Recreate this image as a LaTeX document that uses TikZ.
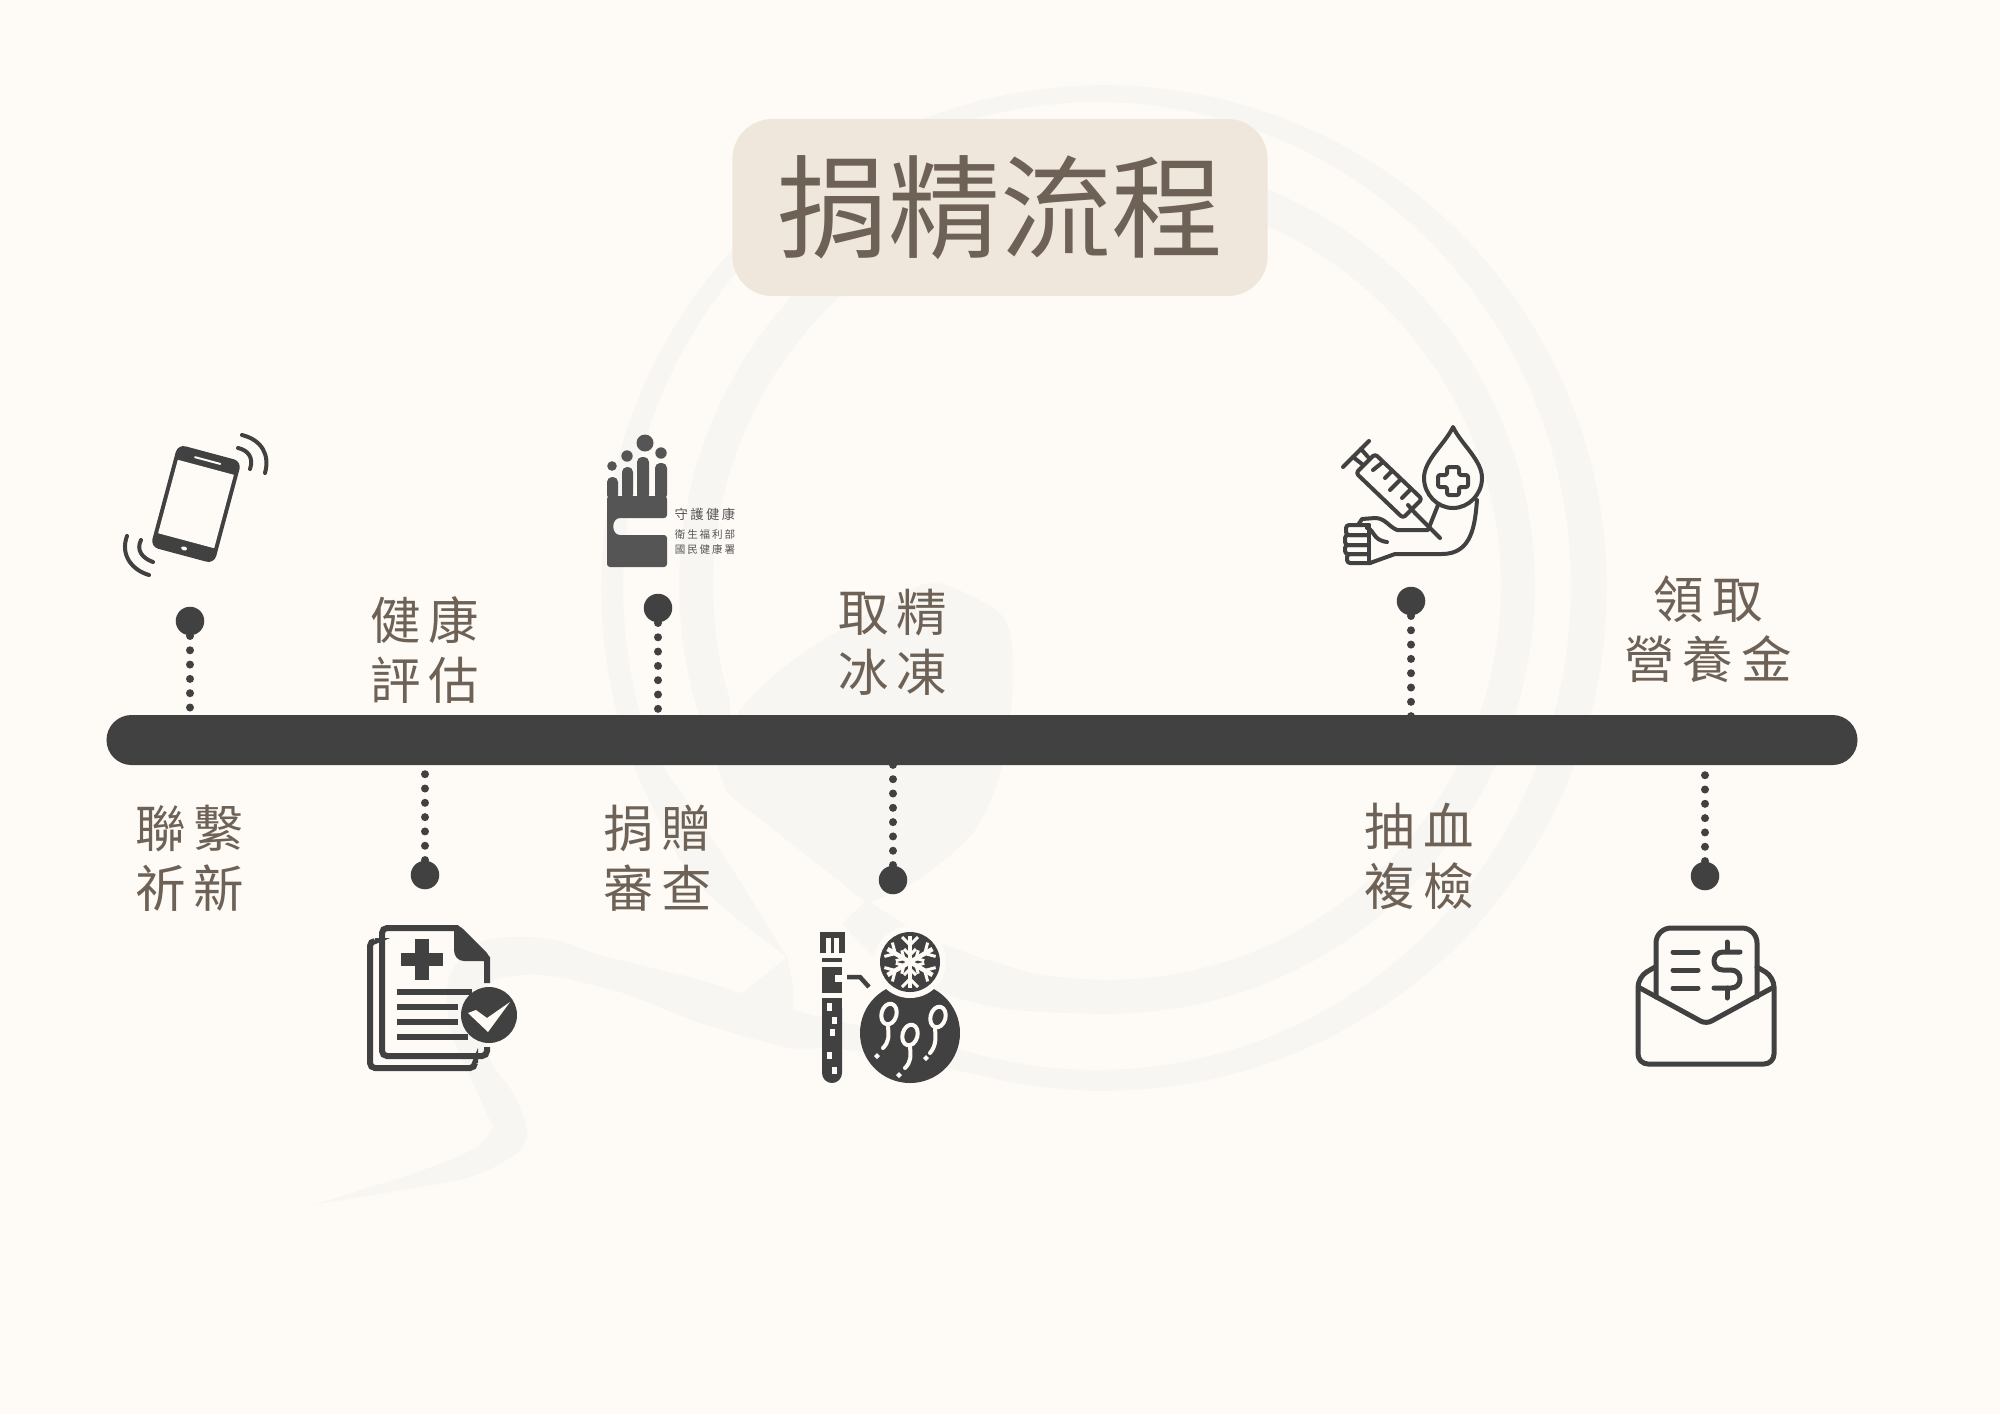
\documentclass[tikz,border=0pt]{standalone}
\usepackage{fontspec}
\usepackage{tikz}
\usetikzlibrary{calc}
\newfontfamily\labelfont[LetterSpace=16]{Noto Sans CJK TC}
\newfontfamily\titlefont{Noto Sans CJK TC}
\newfontfamily\logofont[LetterSpace=18]{Noto Sans CJK TC}
\definecolor{paper}{HTML}{FEFBF7}
\definecolor{swirl}{HTML}{F8F6F3}
\definecolor{boxtan}{HTML}{F0E7DC}
\definecolor{inktan}{HTML}{6E6257}
\definecolor{icondark}{HTML}{414141}
\definecolor{logogray}{HTML}{555555}

\begin{document}
\begin{tikzpicture}[x=0.01cm,y=-0.01cm,
	stepdot/.style={circle,fill=icondark,inner sep=0pt,minimum size=0.285cm},
	dotline/.style={icondark,line width=0.08cm,line cap=round,dash pattern=on 0pt off 0.143cm},
	steplabel/.style={text=inktan,align=center,inner sep=0pt,font=\labelfont\fontsize{14.35}{17.1}\selectfont},
	iconline/.style={icondark,line width=0.04cm,line cap=round,line join=round},
	iconlight/.style={paper,line width=0.04cm,line cap=round,line join=round},
	]
	\useasboundingbox (0,0) rectangle (2000,1414);
	\fill[paper] (0,0) rectangle (2000,1414);

	\begin{scope}[swirl]
		\fill plot[smooth] coordinates {(822,1047) (890,1056) (974,1074)}
			-- plot[domain=105:-200,samples=90] ({1104+503*cos(\x)},{588+503*sin(\x)})
			-- plot[smooth] coordinates {(631,760) (690,875) (787,957)}
			-- plot[smooth] coordinates {(787,957) (720,850) (652,751)}
			-- plot[domain=-200:107,samples=90] ({1097+474*cos(\x)},{586+484*sin(\x)})
			-- plot[smooth] coordinates {(958,1049) (880,1030) (793,1010) (700,980) (600,955) (557,940) (510,937) (473,945) (450,975) (447,1000) (452,1035) (467,1070) (493,1127)}
			-- plot[smooth] coordinates {(493,1127) (477,1147) (423,1170) (313,1205)}
			-- plot[smooth] coordinates {(313,1205) (390,1192) (470,1177) (517,1153) (527,1130) (513,1093) (490,1060) (485,1020) (490,983) (523,975) (557,977) (623,993) (700,1023) (790,1048) (822,1047)}
			-- cycle;
		\fill (787,957) -- (793,985) -- (793,1012) -- (740,995) -- cycle;
		\fill plot[smooth] coordinates {(842,923) (900,977) (1000,1008) (1107,1014)}
			-- plot[domain=90:-200,samples=90] ({1107+428*cos(\x)},{586+428*sin(\x)})
			-- plot[smooth] coordinates {(705,732) (717,765) (727,793)}
			-- plot[domain=-197:90,samples=90] ({1107+394*cos(\x)},{586+394*sin(\x)})
			-- plot[smooth] coordinates {(1107,980) (1033,973) (933,940) (867,900)}
			-- cycle;
		\fill plot[smooth] coordinates {(867,903) (913,883) (973,833) (1002,767) (1013,680) (1003,617) (937,583) (893,600) (800,655) (740,710) (727,760) (727,793)} -- cycle;
	\end{scope}

	\node[fill=boxtan,text=inktan,rounded corners=0.4cm,minimum width=5.35cm,minimum height=1.77cm,inner sep=0pt,font=\titlefont\fontsize{31.8}{36}\selectfont] (titlebox) at (1000,207.5) {捐精流程};

	\node[fill=icondark,rounded corners=0.25cm,minimum width=17.5cm,minimum height=0.5cm,inner sep=0pt] (bar) at (982,740) {};

	\begin{scope}[every node/.style={stepdot}]
		\node (dotphone) at (190,621) {};
		\node (dotcheck) at (425,875) {};
		\node (dotreview) at (658,608) {};
		\node (dotfreeze) at (893,880) {};
		\node (dotblood) at (1411,601) {};
		\node (dotmoney) at (1705,876) {};
	\end{scope}

	\draw[dotline] (dotphone) -- ($(dotphone |- bar.north)+(0,8)$);
	\draw[dotline] (dotcheck) -- ($(dotcheck |- bar.south)+(0,-8)$);
	\draw[dotline] (dotreview) -- ($(dotreview |- bar.north)+(0,8)$);
	\draw[dotline] (dotfreeze) -- ($(dotfreeze |- bar.south)+(0,-8)$);
	\draw[dotline] (dotblood) -- ($(dotblood |- bar.north)+(0,8)$);
	\draw[dotline] (dotmoney) -- ($(dotmoney |- bar.south)+(0,-8)$);

	\begin{scope}[every node/.style={steplabel}]
		\node (textphone) at (190,858) {聯繫\\祈新};
		\node (textcheck) at (425,650) {健康\\評估};
		\node (textreview) at (658,858) {捐贈\\審查};
		\node (textfreeze) at (893,642) {取精\\冰凍};
		\node (textblood) at (1419,856) {抽血\\複檢};
		\node (textmoney) at (1708,629) {領取\\營養金};
	\end{scope}

	% phone
	\begin{scope}[shift={(196,504)},rotate=-15]
		\fill[icondark,rounded corners=0.08cm] (-33,-53) rectangle (33,53);
		\fill[paper] (-29,-38) rectangle (29,38);
		\draw[paper,line width=0.02cm,line cap=round] (-13,-45) -- (13,-45);
		\fill[paper] (0,46) ellipse [x radius=3,y radius=2];
	\end{scope}
	\draw[iconline] (242,435) .. controls (262,440) and (270,455) .. (265,473);
	\draw[iconline] (238,448) .. controls (248,450) and (254,458) .. (250,469);
	\draw[iconline] (127,536) .. controls (120,555) and (132,570) .. (149,575);
	\draw[iconline] (141,540) .. controls (136,550) and (142,558) .. (153,562);

	% logo
	\begin{scope}[logogray]
		\fill (645,443) circle [radius=8.5];
		\fill (661,453) circle [radius=5.7];
		\fill (627,456) circle [radius=5.7];
		\fill (612,466) circle [radius=4.8];
		\fill[rounded corners=0.05cm] (607,500) -- (607,477) -- (618,477) -- (618,500) -- cycle;
		\fill[rounded corners=0.05cm] (622,500) -- (622,467) -- (633,467) -- (633,500) -- cycle;
		\fill[rounded corners=0.05cm] (637,500) -- (637,457) -- (649,457) -- (649,500) -- cycle;
		\fill[rounded corners=0.05cm] (655,500) -- (655,463) -- (667,463) -- (667,500) -- cycle;
		\fill[rounded corners=0.03cm] (607,496) -- (667,496) -- (667,518) -- (623,518) .. controls (611,518) and (611,535) .. (623,535) -- (667,535) -- (667,567) -- (607,567) -- cycle;
	\end{scope}
	\node[text=logogray,inner sep=0pt,font=\logofont\fontsize{3.8}{5}\selectfont] (logotop) at (705,514) {守護健康};
	\node[text=logogray,inner sep=0pt,font=\logofont\fontsize{3}{5}\selectfont] (logomid) at (705,534) {衛生福利部};
	\node[text=logogray,inner sep=0pt,font=\logofont\fontsize{3}{5}\selectfont] (logolow) at (705,549) {國民健康署};

	% document
	\begin{scope}[icondark,line width=0.06cm]
		\draw[rounded corners=0.05cm] (375,941) -- (370,941) -- (370,1068) -- (475,1068) -- (475,1063);
		\draw[rounded corners=0.05cm] (487,983) -- (487,957) -- (458,928) -- (382,928) -- (382,1056) -- (487,1056) -- (487,1047);
		\fill (458,925) -- (490,957) -- (490,961) -- (464,961) .. controls (458,961) and (454,956) .. (454,950) -- (454,925) -- cycle;
		\fill (415,939) rectangle (429,980);
		\fill (401,953) rectangle (443,966);
		\fill (397,989) rectangle (472,995);
		\fill (397,1004) rectangle (458,1010);
		\fill (397,1019) rectangle (458,1025);
		\fill (397,1034) rectangle (468,1040);
		\fill (489,1015) circle [radius=28];
		\fill[paper] (468,1013) -- (476,1010) -- (487,1018) -- (510,1002) -- (488,1032) -- cycle;
	\end{scope}

	% tube and cells
	\begin{scope}[icondark]
		\fill (820,932) rectangle (845,953);
		\fill[paper] (826,938) rectangle (831,953);
		\fill[paper] (834,938) rectangle (839,953);
		\fill (822,958) rectangle (842,962);
		\fill (822,967) rectangle (842,975);
		\fill (822,975) rectangle (835,982);
		\fill (822,982) rectangle (842,993);
		\fill[rounded corners=0.1cm] (822,998) -- (842,998) -- (842,1083) -- (822,1083) -- cycle;
		\fill (822,998) rectangle (842,1010);
		\fill[paper] (827,1003) rectangle (832,1011);
		\fill[paper] (832,1017) rectangle (837,1024);
		\fill[paper] (830,1029) rectangle (835,1036);
		\fill[paper] (827,1052) rectangle (832,1059);
		\fill[paper] (832,1067) rectangle (837,1074);
		\draw[line width=0.045cm] (847,977) -- (860,977) -- (869,987);
		\fill (910,1033) circle [radius=50];
		\fill[paper] (910,962) circle [radius=36];
		\fill (910,962) circle [radius=30];
	\end{scope}
	\foreach \ang in {0,60,120,180,240,300}
	{
		\begin{scope}[shift={(910,962)},rotate=\ang]
			\draw[paper,line width=0.045cm] (0,0) -- (0,-26);
			\draw[paper,line width=0.03cm] (-8,-25) -- (0,-17) -- (8,-25);
			\draw[paper,line width=0.03cm] (-6,-13) -- (0,-7) -- (6,-13);
		\end{scope}
	}
	\draw[iconlight,rotate around={-15:(889,1014)}] (889,1014) ellipse [x radius=7.5,y radius=10.5];
	\draw[iconlight] (888,1027) .. controls (889,1036) and (889,1042) .. (883,1048);
	\fill[paper] (877,1053) -- (880,1056) -- (877,1059) -- (874,1056) -- cycle;
	\draw[iconlight,rotate around={-15:(910,1035)}] (910,1035) ellipse [x radius=7.5,y radius=10.5];
	\draw[iconlight] (910,1047) .. controls (911,1056) and (911,1062) .. (905,1068);
	\fill[paper] (899,1072) -- (902,1075) -- (899,1078) -- (896,1075) -- cycle;
	\draw[iconlight,rotate around={-15:(938,1017)}] (938,1017) ellipse [x radius=7.5,y radius=10.5];
	\draw[iconlight] (935,1029) .. controls (936,1038) and (936,1046) .. (930,1053);
	\fill[paper] (926,1055) -- (929,1058) -- (926,1061) -- (923,1058) -- cycle;

	% blood test
	\begin{scope}[iconline]
		\draw (1343,467) -- (1369,441);
		\draw (1361,449) -- (1368,457);
		\draw (1353,457) -- (1362,464);
		\draw[rounded corners=0.03cm] (1375,454) -- (1356,473) -- (1403,518) -- (1422,499) -- cycle;
		\draw (1383,462) -- (1373,470);
		\draw (1392,471) -- (1385,478);
		\draw (1400,480) -- (1390,490);
		\draw (1411,489) -- (1402,498);
		\draw (1408,505) -- (1415,513);
		\draw (1415,513) -- (1440,538);
		\draw (1453,427) .. controls (1445,444) and (1424,460) .. (1424,478) .. controls (1424,494) and (1437,508) .. (1453,508) .. controls (1469,508) and (1482,494) .. (1482,478) .. controls (1482,460) and (1461,444) .. (1453,427) -- cycle;
		\draw[rounded corners=0.02cm] (1447,467) -- (1459,467) -- (1459,475) -- (1468,475) -- (1468,487) -- (1459,487) -- (1459,495) -- (1447,495) -- (1447,487) -- (1438,487) -- (1438,475) -- (1447,475) -- cycle;
		\draw (1477,500) .. controls (1475,525) and (1472,554) .. (1442,554) -- (1395,554) -- (1370,563);
		\draw (1438,505) -- (1428,530) -- (1397,530) .. controls (1388,526) and (1385,518) .. (1375,518) -- (1362,519) -- (1358,525);
		\draw[rounded corners=0.03cm] (1369,525) -- (1346,525) -- (1346,535) -- (1369,535);
		\draw[rounded corners=0.03cm] (1369,535) -- (1345,535) -- (1345,545) -- (1369,545);
		\draw[rounded corners=0.03cm] (1369,545) -- (1345,545) -- (1345,554) -- (1369,554);
		\draw[rounded corners=0.03cm] (1369,554) -- (1347,554) -- (1347,563) -- (1370,563);
		\draw (1369,525) -- (1369,563);
		\draw (1367,528) .. controls (1375,530) and (1372,540) .. (1387,542);
	\end{scope}

	% envelope
	\begin{scope}[icondark,line width=0.05cm,line cap=round,line join=round]
		\draw[rounded corners=0.1cm] (1655,967) -- (1638,977) -- (1638,1064) -- (1774,1064) -- (1774,977) -- (1757,967);
		\draw[rounded corners=0.06cm] (1640,988) -- (1706,1024) -- (1772,988);
		\draw[rounded corners=0.15cm] (1656,997) -- (1656,928) -- (1757,928) -- (1757,997);
		\draw (1673,952) -- (1698,952);
		\draw (1673,970) -- (1698,970);
		\draw (1673,988) -- (1698,988);
		\draw (1740,952) -- (1723,952) .. controls (1711,952) and (1711,970) .. (1723,970) -- (1731,970) .. controls (1743,970) and (1743,988) .. (1731,988) -- (1714,988);
		\draw (1727,942) -- (1727,951);
		\draw (1727,988) -- (1727,998);
	\end{scope}
\end{tikzpicture}
\end{document}
